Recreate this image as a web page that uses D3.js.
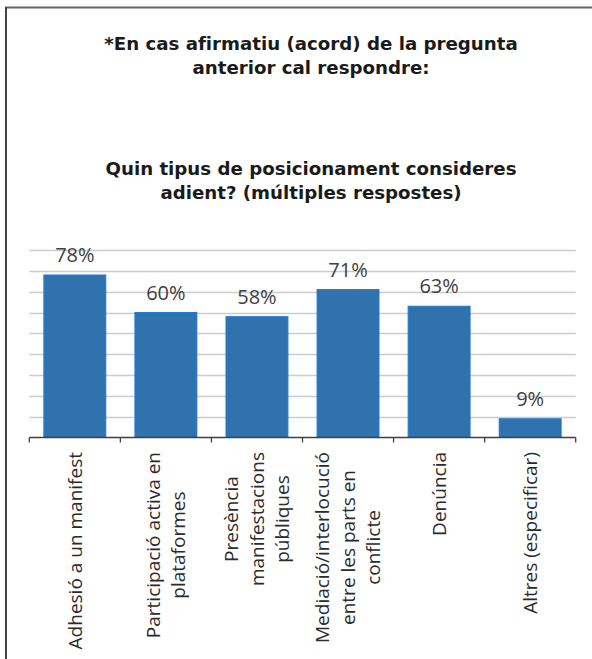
<!doctype html>
<html lang="ca">
<head>
  <meta charset="utf-8">
  <title>Posicionament</title>
  <script src="https://cdn.jsdelivr.net/npm/d3@7"></script>
  <style>
    body { margin: 0; background: #fff; }
    svg { display: block; }
    .title { font-family: "DejaVu Sans", sans-serif; font-weight: bold; font-size: 18.2px; fill: #1a1a1a; }
    .lbl { font-family: "Open Sans", sans-serif; font-size: 20px; fill: #404040; }
    .cat { font-family: "Open Sans", sans-serif; font-size: 19px; fill: #2b2b2b; }
  </style>
</head>
<body>
<svg id="chart" width="592" height="659"></svg>
<script>
  // dades
  var categories = [
    ["Adhesió a un manifest"],
    ["Participació activa en", "plataformes"],
    ["Presència", "manifestacions", "públiques"],
    ["Mediació/interlocució", "entre les parts en", "conflicte"],
    ["Denúncia"],
    ["Altres (especificar)"]
  ];
  var values = [0.78, 0.60, 0.58, 0.71, 0.63, 0.09];
  var yTicks = [0.1, 0.2, 0.3, 0.4, 0.5, 0.6, 0.7, 0.8, 0.9];
  var titleLines = [
    "*En cas afirmatiu (acord) de la pregunta",
    "anterior cal respondre:",
    "Quin tipus de posicionament consideres",
    "adient? (múltiples respostes)"
  ];

  var svg = d3.select("#chart");
  var plotLeft = 29.3, plotRight = 575.7, plotTop = 250, axisY = 437.5;

  // marc
  svg.append("line").attr("x1", 5).attr("x2", 592).attr("y1", 7.5).attr("y2", 7.5)
    .attr("stroke", "#666").attr("stroke-width", 2);
  svg.append("line").attr("x1", 6).attr("x2", 6).attr("y1", 7).attr("y2", 659)
    .attr("stroke", "#444").attr("stroke-width", 2);

  // titol
  var titleY = [50, 74, 175, 198.5];
  svg.append("g").selectAll("text").data(titleLines).enter()
    .append("text")
    .attr("class", "title")
    .attr("x", 311)
    .attr("y", function(d, i) { return titleY[i]; })
    .attr("text-anchor", "middle")
    .text(function(d) { return d; });

  var x = d3.scaleBand()
    .domain(d3.range(categories.length))
    .range([plotLeft, plotRight])
    .paddingInner(0.32)
    .paddingOuter(0.16);

  var y = d3.scaleLinear().domain([0, 0.9]).range([axisY, plotTop]);

  // linies de graella
  svg.append("g").selectAll("line").data(yTicks).enter()
    .append("line")
    .attr("x1", plotLeft).attr("x2", plotRight)
    .attr("y1", function(d) { return Math.round(y(d)) + 0.5; })
    .attr("y2", function(d) { return Math.round(y(d)) + 0.5; })
    .attr("stroke", "#cccccc")
    .attr("stroke-width", 1.4);

  // barres
  svg.append("g").selectAll("rect").data(values).enter()
    .append("rect")
    .attr("x", function(d, i) { return x(i); })
    .attr("y", function(d) { return y(d); })
    .attr("width", x.bandwidth())
    .attr("height", function(d) { return axisY - y(d); })
    .attr("fill", "#2F72AE")
    .attr("stroke", "#1f78dc")
    .attr("stroke-width", 1);

  // etiquetes de valor
  var fmt = d3.format(".0%");
  svg.append("g").selectAll("text").data(values).enter()
    .append("text")
    .attr("class", "lbl")
    .attr("x", function(d, i) { return x(i) + x.bandwidth() / 2; })
    .attr("y", function(d) { return y(d) - 13; })
    .attr("text-anchor", "middle")
    .text(function(d) { return fmt(d); });

  // eix
  var step = x.step();
  svg.append("line").attr("x1", plotLeft).attr("x2", plotRight)
    .attr("y1", axisY).attr("y2", axisY)
    .attr("stroke", "#404040").attr("stroke-width", 1.3);
  svg.append("g").selectAll("line").data(d3.range(categories.length + 1)).enter()
    .append("line")
    .attr("x1", function(d) { return plotLeft + d * step; })
    .attr("x2", function(d) { return plotLeft + d * step; })
    .attr("y1", axisY).attr("y2", axisY + 5)
    .attr("stroke", "#404040").attr("stroke-width", 1.3);

  // etiquetes de categoria, girades
  var fs = 19, lh = 25.5, labelTop = 452;
  categories.forEach(function(lines, i) {
    var cx = x(i) + x.bandwidth() / 2;
    var g = svg.append("g");
    var texts = g.selectAll("text").data(lines).enter()
      .append("text")
      .attr("class", "cat")
      .attr("text-anchor", "middle")
      .attr("x", 0)
      .attr("y", function(d, j) { return (j - (lines.length - 1) / 2) * lh + 0.36 * fs; })
      .text(function(d) { return d; });
    var w = d3.max(texts.nodes(), function(n) { return n.getComputedTextLength(); });
    g.attr("transform", "translate(" + cx + "," + (labelTop + w / 2) + ") rotate(-90)");
  });
</script>
</body>
</html>
